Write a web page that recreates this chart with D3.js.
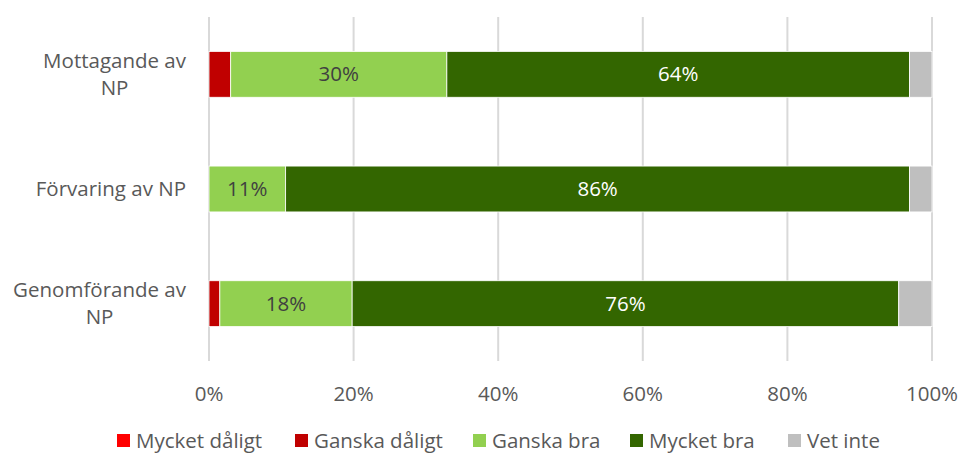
<!DOCTYPE html>
<html>
<head>
<meta charset="utf-8">
<script src="https://cdn.jsdelivr.net/npm/d3@7"></script>
<style>
  body { margin: 0; background: #fff; }
  text { font-family: "Open Sans", sans-serif; }
</style>
</head>
<body>
<div id="chart"></div>
<script>
const categories = [["Mottagande av", "NP"], ["Förvaring av NP"], ["Genomförande av", "NP"]]
const seriesNames = ["Mycket dåligt", "Ganska dåligt", "Ganska bra", "Mycket bra", "Vet inte"]
const seriesColors = ["#ff0000", "#c00000", "#92d050", "#336600", "#bfbfbf"]
const labelColors = ["#404040", "#404040", "#404040", "#ffffff", "#404040"]
// percent per category, in series order
const mottagande = [0, 3.0, 29.9, 64.0, 3.1]
const forvaring = [0, 0, 10.6, 86.3, 3.1]
const genomforande = [0, 1.5, 18.3, 75.6, 4.6]
const rows = [mottagande, forvaring, genomforande]
const xTicks = [0, 20, 40, 60, 80, 100]

const width = 962, height = 453
const fs = "20.5px"
const svg = d3.select("#chart").append("svg")
    .attr("width", width)
    .attr("height", height)

const x = d3.scaleLinear().domain([0, 100]).range([209, 932])
const y = d3.scaleBand().domain(d3.range(rows.length)).range([17, 361]).paddingInner(0.6).paddingOuter(0.3)

// gridlines
svg.append("g").selectAll("line").data(xTicks).join("line")
    .attr("x1", d => x(d)).attr("x2", d => x(d))
    .attr("y1", 17).attr("y2", 361)
    .attr("stroke", "#d9d9d9").attr("stroke-width", 2)

// tick labels
svg.append("g").selectAll("text").data(xTicks).join("text")
    .attr("x", d => x(d)).attr("y", 401)
    .attr("text-anchor", "middle")
    .attr("fill", "#595959").style("font-size", fs)
    .text(d => d + "%")

rows.forEach((row, i) => {
    const stacked = []
    let acc = 0
    row.forEach((v, j) => { stacked.push({ j: j, x0: acc, x1: acc + v, v: v }); acc += v })
    const g = svg.append("g")
    g.selectAll("rect").data(stacked.filter(d => d.v > 0)).join("rect")
        .attr("x", d => x(d.x0))
        .attr("y", y(i))
        .attr("width", d => x(d.x1) - x(d.x0))
        .attr("height", y.bandwidth())
        .attr("fill", d => seriesColors[d.j])
        .attr("stroke", "#fff").attr("stroke-width", 0.8)
    g.selectAll("text").data(stacked.filter(d => d.v >= 10)).join("text")
        .attr("x", d => (x(d.x0) + x(d.x1)) / 2)
        .attr("y", y(i) + y.bandwidth() / 2 + 7)
        .attr("text-anchor", "middle")
        .attr("fill", d => labelColors[d.j])
        .style("font-size", fs)
        .text(d => Math.round(d.v) + "%")

    // category label
    const lines = categories[i]
    const cy = y(i) + y.bandwidth() / 2
    const lineH = 27
    const t = svg.append("text")
        .attr("fill", "#595959").style("font-size", fs)
        .attr("text-anchor", "middle")
    const tmp = t.append("tspan").text(lines[0])
    const w0 = tmp.node().getComputedTextLength()
    tmp.remove()
    const cx = 186 - w0 / 2
    lines.forEach((l, k) => {
        t.append("tspan")
            .attr("x", cx)
            .attr("y", cy + 7 + (k - (lines.length - 1) / 2) * lineH)
            .text(l)
    })
})

// legend
const legendX = [117, 295, 473, 630, 788]
const legend = svg.append("g")
seriesNames.forEach((name, i) => {
    legend.append("rect")
        .attr("x", legendX[i]).attr("y", 434)
        .attr("width", 13).attr("height", 13)
        .attr("fill", seriesColors[i])
    legend.append("text")
        .attr("x", legendX[i] + 19).attr("y", 448)
        .attr("fill", "#595959").style("font-size", fs)
        .text(name)
})
</script>
</body>
</html>
